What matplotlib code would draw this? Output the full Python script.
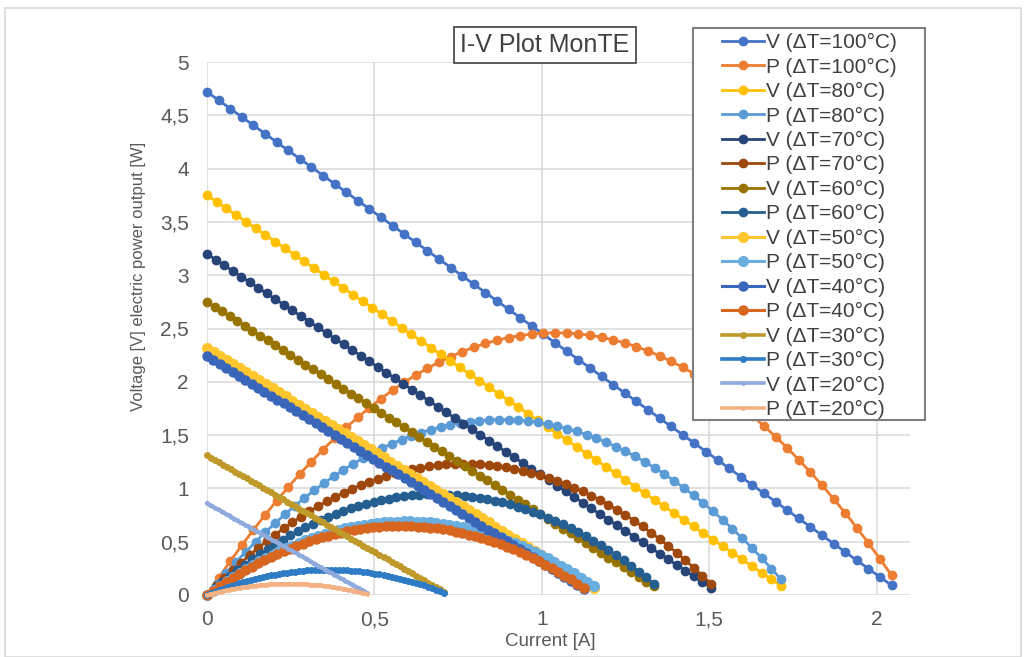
import numpy as np
import matplotlib.pyplot as plt
from matplotlib.patches import Rectangle
from matplotlib.ticker import FuncFormatter

# Open-circuit voltage, last current point and last voltage point per dT
delta_t = [100, 80, 70, 60, 50, 40, 30, 20]
v_open = [4.72, 3.75, 3.20, 2.75, 2.32, 2.24, 1.31, 0.86]
i_end = [2.045, 1.715, 1.505, 1.335, 1.155, 1.125, 0.707, 0.478]
v_end = [0.09, 0.085, 0.07, 0.08, 0.07, 0.06, 0.03, 0.02]
n_points = 60

v_colors = ['#4472C4', '#FFC000', '#264478', '#997300', '#FFC62E', '#3A66BA', '#BF9A2A', '#8FAADC']
p_colors = ['#ED7D31', '#5B9BD5', '#9E480E', '#255E91', '#6AAEE0', '#D8661F', '#2E7BC6', '#F4B183']
marker_sizes = [6, 6, 6, 6, 7, 6.5, 4, 2.5]
line_widths = [2, 2, 2, 2, 2.2, 2.2, 2.6, 2.6]

W, H = 1027, 657
fig = plt.figure(figsize=(W / 100, H / 100), dpi=100)
font = 'Liberation Sans'
plt.rcParams['font.family'] = [font, 'DejaVu Sans']

# outer chart border
fig.patches.append(Rectangle((5 / W, 0), (1021 - 5) / W, 1 - 8 / H, transform=fig.transFigure,
                             fill=False, edgecolor='#D9D9D9', lw=1.2, zorder=0))

ax = fig.add_axes([207 / W, 1 - 595 / H, (910 - 207) / W, (595 - 62) / H])

handles = []
for k, dt in enumerate(delta_t):
    # measured points: current steps, voltage falling linearly, power = V * I
    current = np.linspace(0, i_end[k], n_points)
    volt = v_open[k] - (v_open[k] - v_end[k]) * current / i_end[k]
    power = volt * current
    hv, = ax.plot(current, volt, '-o', color=v_colors[k], ms=marker_sizes[k], lw=line_widths[k],
                  clip_on=False, label=f'V (ΔT={dt}°C)')
    hp, = ax.plot(current, power, '-o', color=p_colors[k], ms=marker_sizes[k], lw=line_widths[k],
                  clip_on=False, label=f'P (ΔT={dt}°C)')
    handles += [hv, hp]

ax.set_xlim(0, 2.1)
ax.set_ylim(0, 5)
ax.set_xticks([0, 0.5, 1, 1.5, 2])
ax.set_yticks(np.arange(0, 5.01, 0.5))
fmt = FuncFormatter(lambda v, pos: f'{v:g}'.replace('.', ','))
ax.xaxis.set_major_formatter(fmt)
ax.yaxis.set_major_formatter(fmt)
ax.grid(True, color='#D9D9D9', lw=1.1)
ax.set_axisbelow(True)
for s in ax.spines.values():
    s.set_visible(False)
ax.tick_params(length=0, labelsize=15, labelcolor='#595959')
ax.tick_params(axis='y', pad=13)
ax.tick_params(axis='x', pad=11)

ax.set_xlabel('Current [A]', fontsize=13.5, color='#595959')
ax.set_ylabel('Voltage [V] electric power output [W]', fontsize=12, color='#595959')
ax.xaxis.set_label_coords(0.488, -0.072)
ax.yaxis.set_label_coords(-0.087, 0.597)

# title box
fig.text(545 / W, 1 - 45 / H, 'I-V Plot MonTE', fontsize=18, color='#404040', ha='center', va='center',
         bbox=dict(boxstyle='square,pad=0.25', fc='white', ec='#404040', lw=1.2))

# legend with its own frame
fig.patches.append(Rectangle((693 / W, 1 - 420 / H), (925 - 693) / W, (420 - 28) / H,
                             transform=fig.transFigure, fc='white', ec='#7F7F7F', lw=1.5, zorder=4))
leg = fig.legend(handles=handles, loc='upper left', bbox_to_anchor=(722 / W, 1 - 33 / H),
                 frameon=False, fontsize=15, borderpad=0, borderaxespad=0, labelspacing=0.26,
                 handlelength=2.0, handletextpad=0.1, labelcolor='#404040')
leg.set_zorder(5)

fig.savefig('out.png', dpi=100)
